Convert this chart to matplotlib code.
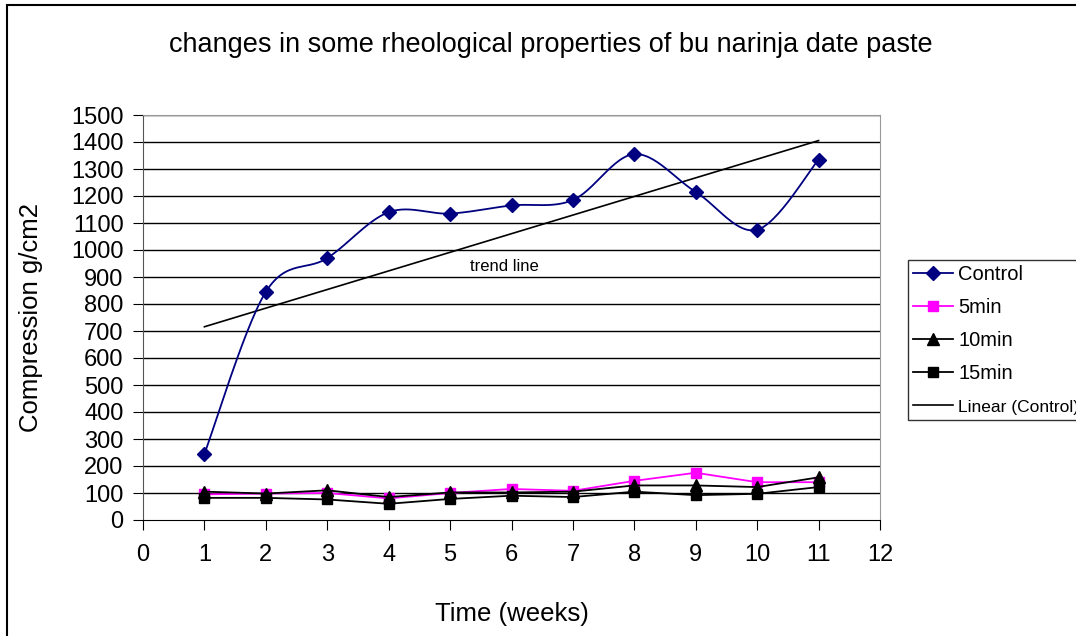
import matplotlib
matplotlib.use("Agg")
import matplotlib.pyplot as plt
import numpy as np
from matplotlib.patches import Rectangle
from matplotlib.lines import Line2D

plt.rcParams['font.family'] = ['Liberation Sans', 'DejaVu Sans']

weeks = [1, 2, 3, 4, 5, 6, 7, 8, 9, 10, 11]
control = [245, 845, 970, 1140, 1135, 1165, 1185, 1355, 1215, 1075, 1335]
min5 = [95, 98, 100, 80, 100, 115, 108, 145, 175, 140, 140]
min10 = [105, 98, 110, 85, 102, 102, 105, 128, 128, 122, 158]
min15 = [82, 82, 76, 60, 78, 90, 85, 105, 92, 97, 122]

x_ticks = list(range(0, 13))
y_ticks = list(range(0, 1501, 100))


def smooth(xs, ys, n=30):
    # bezier smoothing similar to excel's "smoothed line"
    xs = np.asarray(xs, float)
    ys = np.asarray(ys, float)
    px = np.concatenate([[xs[0]], xs, [xs[-1]]])
    py = np.concatenate([[ys[0]], ys, [ys[-1]]])
    outx, outy = [], []
    for i in range(1, len(px) - 2):
        p0 = np.array([px[i - 1], py[i - 1]])
        p1 = np.array([px[i], py[i]])
        p2 = np.array([px[i + 1], py[i + 1]])
        p3 = np.array([px[i + 2], py[i + 2]])
        c1 = p1 + (p2 - p0) / 6
        c2 = p2 - (p3 - p1) / 6
        t = np.linspace(0, 1, n)[:, None]
        pts = ((1 - t) ** 3) * p1 + 3 * ((1 - t) ** 2) * t * c1 + 3 * (1 - t) * t ** 2 * c2 + t ** 3 * p2
        outx.extend(pts[:, 0])
        outy.extend(pts[:, 1])
    return outx, outy


fig = plt.figure(figsize=(10.76, 6.36), dpi=100)
ax = fig.add_axes([143 / 1076, 1 - 520 / 636, (880 - 143) / 1076, (520 - 115) / 636])

fig.patches.append(Rectangle((7 / 1076, -0.1), 1.2, 1 - 5 / 636 + 0.1, transform=fig.transFigure,
                             fill=False, edgecolor='black', linewidth=1.5))

for y in y_ticks[1:]:
    ax.axhline(y, color='black', linewidth=1, zorder=1)

sx, sy = smooth(weeks, control)
ax.plot(sx, sy, color='#000080', linewidth=1.3, zorder=3)
ax.plot(weeks, control, linestyle='none', marker='D', color='#000080', markersize=7, zorder=4)
ax.plot(weeks, min5, color='#FF00FF', marker='s', markersize=7, linewidth=1.3, zorder=3)
ax.plot(weeks, min10, color='black', marker='^', markersize=8, linewidth=1.3, zorder=3)
ax.plot(weeks, min15, color='black', marker='s', markersize=7, linewidth=1.3, zorder=3)

coef = np.polyfit(weeks, control, 1)
tx = np.array([weeks[0], weeks[-1]])
ax.plot(tx, np.polyval(coef, tx), color='black', linewidth=1.2, zorder=2)

ax.text(5.88, 940, 'trend line', fontsize=12, ha='center', va='center')

ax.set_xlim(0, 12)
ax.set_ylim(0, 1500)
ax.set_xticks(x_ticks)
ax.set_yticks(y_ticks)
ax.tick_params(axis='both', labelsize=17, direction='out', length=7, color='black')
ax.tick_params(axis='x', pad=10)
ax.tick_params(axis='y', pad=7)
ax.spines['top'].set_color('#999999')
ax.spines['right'].set_color('#999999')
ax.spines['left'].set_color('#555555')
ax.spines['bottom'].set_color('black')

ax.set_xlabel('Time (weeks)', fontsize=18.5, labelpad=26)
ax.set_ylabel('Compression g/cm2', fontsize=18.5, labelpad=20)
fig.text(551 / 1076, 1 - 45 / 636, 'changes in some rheological properties of bu narinja date paste',
         fontsize=19.5, ha='center', va='center')

labels = ['Control', '5min', '10min', '15min', 'Linear (Control)']
handles = [
    Line2D([], [], color='#000080', marker='D', markersize=7, linewidth=1.3),
    Line2D([], [], color='#FF00FF', marker='s', markersize=7, linewidth=1.3),
    Line2D([], [], color='black', marker='^', markersize=8, linewidth=1.3),
    Line2D([], [], color='black', marker='s', markersize=7, linewidth=1.3),
    Line2D([], [], color='black', linewidth=1.2),
]
leg = fig.legend(handles, labels, loc='upper left', bbox_to_anchor=(898 / 1076, 1 - 250 / 636),
                 fontsize=14.5, frameon=True, fancybox=False, edgecolor='black',
                 handlelength=2.0, labelspacing=0.7, borderpad=0.25, handletextpad=0.25)
leg.get_frame().set_linewidth(1)
leg.get_texts()[-1].set_fontsize(12.5)

fig.savefig('out.png', dpi=100)
